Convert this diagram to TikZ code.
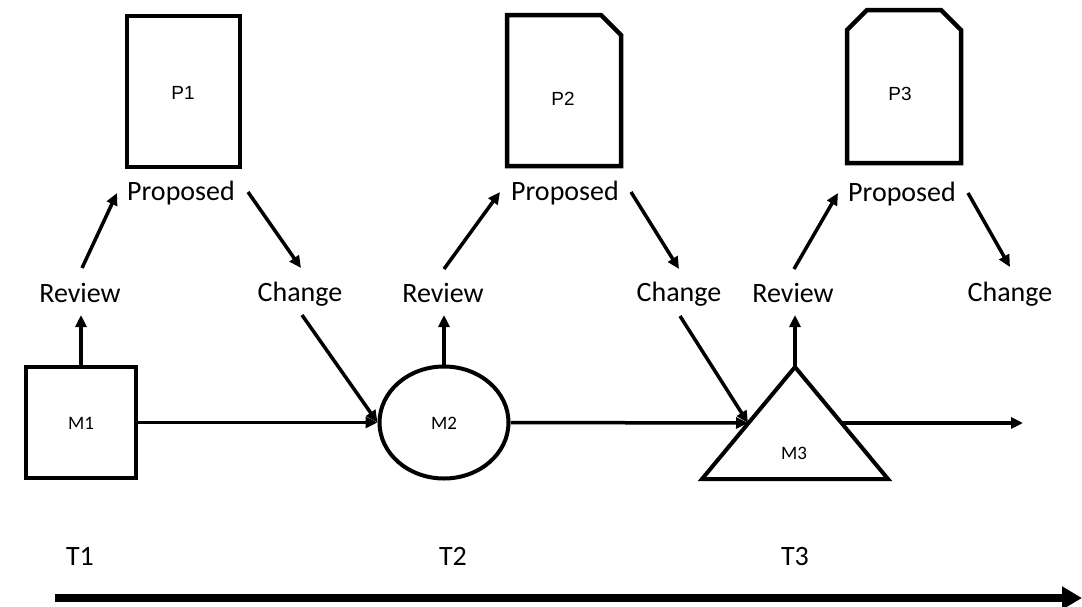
\documentclass[tikz,border=0pt]{standalone}
\usepackage{fontspec}
\setmainfont{Carlito}
\newfontfamily\arialf{Liberation Sans}
\usetikzlibrary{arrows.meta,shapes.geometric}
\begin{document}
\begin{tikzpicture}[x=1pt,y=-1pt,
  lbl/.style={font=\fontsize{28}{32}\selectfont, inner sep=0pt, anchor=base},
  tlbl/.style={font=\fontsize{28}{32}\selectfont, inner sep=0pt, anchor=base},
  mlbl/.style={font=\fontsize{19}{22}\selectfont, inner sep=0pt, anchor=base},
  plbl/.style={font=\arialf\fontsize{19}{22}\selectfont, inner sep=0pt, anchor=base},
  doc/.style={draw, line width=4.5pt, line join=miter},
  mshape/.style={draw, line width=4pt, inner sep=0pt},
  arr/.style={line width=3.5pt, -{Triangle[length=12pt,width=11pt]}},
  bigarr/.style={line width=8pt, -{Triangle[length=20pt,width=22pt]}}
]
\useasboundingbox (0,0) rectangle (1082,606);

% documents
\draw[doc] (127,16) rectangle (240,167);
\draw[doc] (507,15) -- (601,15) -- (621,35) -- (621,166) -- (507,166) -- cycle;
\draw[doc] (867,10) -- (941,10) -- (961,30) -- (961,163) -- (847,163) -- (847,30) -- cycle;
\node[plbl] (p1) at (183,99) {P1};
\node[plbl] (p2) at (563,105) {P2};
\node[plbl] (p3) at (900,100) {P3};

% labels
\node[lbl] (prop1) at (181,200) {Proposed};
\node[lbl] (prop2) at (565,200) {Proposed};
\node[lbl] (prop3) at (902,201) {Proposed};
\node[lbl] (rev1) at (80,302) {Review};
\node[lbl] (rev2) at (443,302) {Review};
\node[lbl] (rev3) at (793,302) {Review};
\node[lbl] (chg1) at (300,301) {Change};
\node[lbl] (chg2) at (679,301) {Change};
\node[lbl] (chg3) at (1010,301) {Change};

% main shapes
\node[mshape, rectangle, minimum width=110pt, minimum height=111pt] (m1) at (81,422.5) {};
\node[mlbl] at (81,429) {M1};
\node[mshape, ellipse, minimum width=129pt, minimum height=112pt] (m2) at (444,422.5) {};
\node[mlbl] at (444,429) {M2};
\coordinate (m3apex) at (795,367);
\coordinate (m3bl) at (702,479);
\coordinate (m3br) at (888,479);
\draw[line width=4pt, line join=miter] (m3apex) -- (m3br) -- (m3bl) -- cycle;
\node[mlbl] (m3) at (794,459) {M3};
\coordinate (m3left) at (748,423);
\coordinate (m3right) at (841,423);

% arrow end points
\coordinate (a1s) at (82,268);  \coordinate (a1e) at (117,193);
\coordinate (b1s) at (248,192); \coordinate (b1e) at (301,268);
\coordinate (a2s) at (444,269); \coordinate (a2e) at (500,192);
\coordinate (b2s) at (631,192); \coordinate (b2e) at (679,269);
\coordinate (a3s) at (794,269); \coordinate (a3e) at (838,193);
\coordinate (b3s) at (968,193); \coordinate (b3e) at (1010,267);
\coordinate (c1s) at (302,315); \coordinate (c2s) at (680,316);
\coordinate (u1) at (81,315); \coordinate (u2) at (444,315); \coordinate (u3) at (795,315);
\coordinate (endm) at (1023,423);

\draw[arr] (a1s) -- (a1e);
\draw[arr] (b1s) -- (b1e);
\draw[arr] (a2s) -- (a2e);
\draw[arr] (b2s) -- (b2e);
\draw[arr] (a3s) -- (a3e);
\draw[arr] (b3s) -- (b3e);
\draw[arr] (c1s) -- (m2.west);
\draw[arr] (c2s) -- (m3left);
\draw[arr] (m1.north) -- (u1);
\draw[arr] (m2.north) -- (u2);
\draw[arr] (m3apex) -- (u3);
\draw[arr] (m1.east) -- (m2.west);
\draw[arr] (m2.east) -- (m3left);
\draw[arr] (m3right) -- (endm);

% time labels
\node[tlbl] (t1) at (80,565) {T1};
\node[tlbl] (t2) at (453,565) {T2};
\node[tlbl] (t3) at (795,565) {T3};
\coordinate (ts) at (55,598);
\coordinate (te) at (1082,598);
\draw[bigarr] (ts) -- (te);
\end{tikzpicture}
\end{document}
